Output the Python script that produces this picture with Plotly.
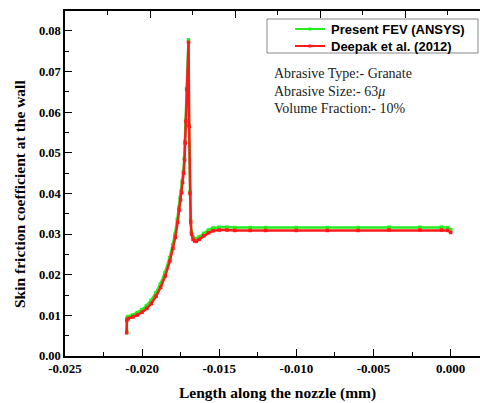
import plotly.graph_objects as go

# ---- data ----
x_fev = [-0.02100, -0.02099, -0.02092, -0.02062, -0.02032, -0.02002, -0.01972, -0.01942,
         -0.01912, -0.01882, -0.01852, -0.01822, -0.01802, -0.01787, -0.01772, -0.01762,
         -0.01753, -0.01746, -0.01740, -0.01733, -0.01727, -0.01723, -0.01718, -0.01712,
         -0.01700, -0.01696, -0.01691, -0.01686, -0.01681, -0.01671, -0.01661, -0.01651,
         -0.01631, -0.01601, -0.01571, -0.01541, -0.01501, -0.01450, -0.01400, -0.01300,
         -0.01200, -0.01000, -0.00800, -0.00600, -0.00400, -0.00200, -0.00060, -0.00020,
         0.00000]
y_fev = [0.0062, 0.0093, 0.0097, 0.0101, 0.0107, 0.0114, 0.0124, 0.0137,
         0.0155, 0.0177, 0.0205, 0.0242, 0.0273, 0.0300, 0.0337, 0.0366,
         0.0390, 0.0407, 0.0431, 0.0454, 0.0487, 0.0528, 0.0580, 0.0658,
         0.0778, 0.0568, 0.0404, 0.0336, 0.0306, 0.0293, 0.0289, 0.0288,
         0.0293, 0.0302, 0.0310, 0.0315, 0.0317, 0.0317, 0.0316, 0.0316,
         0.0316, 0.0316, 0.0316, 0.0316, 0.0317, 0.0317, 0.0317, 0.0316,
         0.0311]

x_deepak = [-0.02100, -0.02099, -0.02090, -0.02060, -0.02030, -0.02000, -0.01970, -0.01940,
            -0.01910, -0.01880, -0.01850, -0.01820, -0.01800, -0.01785, -0.01770, -0.01760,
            -0.01751, -0.01744, -0.01738, -0.01731, -0.01725, -0.01721, -0.01716, -0.01710,
            -0.01699, -0.01695, -0.01690, -0.01685, -0.01680, -0.01670, -0.01660, -0.01650,
            -0.01630, -0.01600, -0.01570, -0.01540, -0.01500, -0.01450, -0.01400, -0.01300,
            -0.01200, -0.01000, -0.00800, -0.00600, -0.00400, -0.00200, -0.00060, -0.00020,
            0.00000]
y_deepak = [0.0057, 0.0088, 0.0092, 0.0096, 0.0101, 0.0108, 0.0117, 0.0129,
            0.0147, 0.0169, 0.0197, 0.0234, 0.0265, 0.0292, 0.0329, 0.0359,
            0.0384, 0.0402, 0.0427, 0.0450, 0.0483, 0.0524, 0.0577, 0.0655,
            0.0772, 0.0565, 0.0400, 0.0330, 0.0300, 0.0287, 0.0283, 0.0282,
            0.0287, 0.0296, 0.0303, 0.0308, 0.0310, 0.0310, 0.0309, 0.0309,
            0.0309, 0.0309, 0.0309, 0.0309, 0.0310, 0.0310, 0.0310, 0.0309,
            0.0304]

x_tick_vals = [-0.025, -0.020, -0.015, -0.010, -0.005, 0.000]
x_tick_text = ["-0.025", "-0.020", "-0.015", "-0.010", "-0.005", "0.000"]
y_tick_vals = [0.00, 0.01, 0.02, 0.03, 0.04, 0.05, 0.06, 0.07, 0.08]
y_tick_text = ["0.00", "0.01", "0.02", "0.03", "0.04", "0.05", "0.06", "0.07", "0.08"]

series_names = ["Present FEV (ANSYS)", "Deepak et al. (2012)"]
series_colors = ["#22ee22", "#ff1a1a"]
info_lines = ["Abrasive Type:- Granate", "Abrasive Size:- 63<i>\u03bc</i>", "Volume Fraction:- 10%"]
x_title = "Length along the nozzle (mm)"
y_title = "Skin friction coefficient at the wall"

serif = "Liberation Serif, Times New Roman, serif"
sans = "Liberation Sans, Arial, sans-serif"

# plot-area geometry (pixels) used to place decorations in paper coords
L, R, T, B = 65, 480, 11, 356
W, H = R - L, B - T
def px(x):
    return (x - L) / W
def py(y):
    return (B - y) / H

fig = go.Figure()
fig.add_trace(go.Scatter(x=x_fev, y=y_fev, mode="lines+markers", name=series_names[0],
                         line=dict(color=series_colors[0], width=2.5),
                         marker=dict(size=3.5, color=series_colors[0], symbol="square")))
fig.add_trace(go.Scatter(x=x_deepak, y=y_deepak, mode="lines+markers", name=series_names[1],
                         line=dict(color=series_colors[1], width=2.5),
                         marker=dict(size=3.5, color=series_colors[1], symbol="square")))
# invisible trace to carry the top axis
fig.add_trace(go.Scatter(x=[0], y=[0], xaxis="x2", mode="markers", showlegend=False,
                         marker=dict(opacity=0), hoverinfo="skip"))

fig.update_layout(
    width=480, height=403,
    margin=dict(l=L, r=480 - R, t=T, b=403 - B),
    paper_bgcolor="white", plot_bgcolor="white",
    showlegend=False,
    xaxis=dict(range=[-0.025, 0.0019], tickvals=x_tick_vals, ticktext=x_tick_text,
               showgrid=False, zeroline=False, showline=True, linecolor="black", linewidth=1.5,
               ticks="inside", ticklen=7, tickwidth=1.2, tickcolor="black",
               minor=dict(dtick=0.0025, tick0=0, ticks="inside", ticklen=4, tickcolor="black", showgrid=False),
               tickfont=dict(family=serif, size=13, color="black", weight="bold")),
    xaxis2=dict(overlaying="x", side="top", range=[0, 415 / 85], dtick=1, tick0=0,
                showticklabels=False, showgrid=False, zeroline=False,
                showline=True, linecolor="black", linewidth=1.5,
                ticks="inside", ticklen=7, tickwidth=1.2, tickcolor="black",
                minor=dict(dtick=0.5, ticks="inside", ticklen=4, tickcolor="black", showgrid=False)),
    yaxis=dict(range=[0, 0.0849], tickvals=y_tick_vals, ticktext=y_tick_text,
               showgrid=False, zeroline=False, showline=True, linecolor="black", linewidth=1.5,
               ticks="inside", ticklen=7, tickwidth=1.2, tickcolor="black",
               minor=dict(dtick=0.005, tick0=0, ticks="inside", ticklen=4, tickcolor="black", showgrid=False),
               tickfont=dict(family=serif, size=12.5, color="black", weight="bold")),
)

# axis titles
fig.add_annotation(text="<b>" + x_title + "</b>", xref="paper", yref="paper",
                   x=px(277), y=py(393), showarrow=False,
                   xanchor="center", yanchor="middle",
                   font=dict(family=serif, size=15.5, color="black"))
fig.add_annotation(text="<b>" + y_title + "</b>", xref="paper", yref="paper",
                   x=px(19), y=py(194), showarrow=False, textangle=-90,
                   xanchor="center", yanchor="middle",
                   font=dict(family=serif, size=15.5, color="black"))

# info text
for i, t in enumerate(info_lines):
    fig.add_annotation(text=t, xref="paper", yref="paper",
                       x=px(272), y=py(74 + 17 * i), showarrow=False,
                       xanchor="left", yanchor="middle",
                       font=dict(family=serif, size=14, color="#222222"))

# legend box (drawn as decorations)
fig.add_shape(type="rect", xref="paper", yref="paper",
              x0=px(267), x1=px(478), y0=py(53), y1=py(19),
              line=dict(color="#888888", width=1), fillcolor="white", layer="above")
for i, (nm, col) in enumerate(zip(series_names, series_colors)):
    yy = 29 + 17 * i
    fig.add_shape(type="line", xref="paper", yref="paper",
                  x0=px(295), x1=px(325), y0=py(yy), y1=py(yy),
                  line=dict(color=col, width=2), layer="above")
    fig.add_shape(type="rect", xref="paper", yref="paper",
                  x0=px(308.5), x1=px(311.5), y0=py(yy + 1.5), y1=py(yy - 1.5),
                  line=dict(width=0), fillcolor=col, layer="above")
    fig.add_annotation(text="<b>" + nm + "</b>", xref="paper", yref="paper",
                       x=px(329), y=py(yy), showarrow=False,
                       xanchor="left", yanchor="middle",
                       font=dict(family=sans, size=13, color="black"))

fig.write_html("out.html", config={"displayModeBar": False},
               post_script="document.body.style.margin='0';document.body.style.padding='0';")
